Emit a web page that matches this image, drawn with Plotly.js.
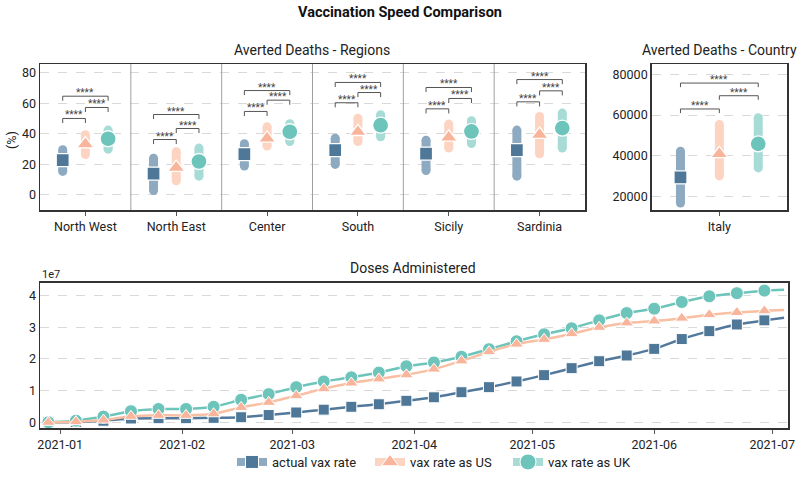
<!DOCTYPE html>
<html><head><meta charset="utf-8">
<script src="https://cdn.plot.ly/plotly-3.0.1.min.js"></script>
<style>html,body{margin:0;padding:0;background:#fff}#chart{width:800px;height:484px}</style>
</head><body><div id="chart"></div>
<script>
// ---------- data: regions ----------
const regions = ['North West','North East','Center','South','Sicily','Sardinia'];
const actualMean = [22.7, 13.8, 26.6, 29.3, 26.9, 29.3];
const actualLo   = [15.3, 2.8, 18.8, 19.9, 15.9, 12.2];
const actualHi   = [29.5, 24.0, 33.4, 37.1, 35.8, 42.4];
const usMean     = [33.2, 17.8, 36.9, 41.3, 37.6, 39.4];
const usLo       = [26.4, 9.2, 31.9, 34.9, 30.6, 26.9];
const usHi       = [39.3, 28.2, 44.5, 50.2, 46.3, 51.3];
const ukMean     = [36.7, 21.8, 41.3, 45.6, 41.5, 43.7];
const ukLo       = [29.9, 12.2, 34.9, 38.0, 33.6, 30.6];
const ukHi       = [42.4, 30.6, 46.5, 52.4, 48.5, 53.5];
const sigActualUS = [50.0, 36.2, 54.6, 60.3, 56.3, 60.9];
const sigUSUK     = [57.2, 43.4, 62.0, 67.0, 63.1, 68.1];
const sigActualUK = [64.6, 52.6, 68.3, 73.6, 70.3, 75.5];
// ---------- data: country ----------
const country = ['Italy'];
const itActual = {mean: 29500, lo: 16900, hi: 42300};
const itUS     = {mean: 41000, lo: 30200, hi: 55400};
const itUK     = {mean: 45900, lo: 34100, hi: 58700};
const itSig    = [63000, 69500, 75700]; // actual-US, US-UK, actual-UK
// ---------- data: doses (x 1e7) ----------
const weeks = ['2020-12-29','2021-01-05','2021-01-12','2021-01-19','2021-01-26','2021-02-02','2021-02-09',
  '2021-02-16','2021-02-23','2021-03-02','2021-03-09','2021-03-16','2021-03-23','2021-03-30','2021-04-06',
  '2021-04-13','2021-04-20','2021-04-27','2021-05-04','2021-05-11','2021-05-18','2021-05-25','2021-06-01',
  '2021-06-08','2021-06-15','2021-06-22','2021-06-29'];
const lastDay = '2021-07-04';
const dosesActual = [0.0,0.01,0.05,0.12,0.13,0.13,0.14,0.16,0.23,0.31,0.40,0.49,0.57,0.68,0.79,0.95,1.11,1.29,1.49,1.71,1.93,2.11,2.32,2.63,2.88,3.09,3.22];
const dosesUS     = [0.0,0.02,0.07,0.19,0.22,0.22,0.27,0.47,0.63,0.84,1.06,1.24,1.37,1.50,1.68,1.94,2.23,2.47,2.62,2.80,3.00,3.14,3.20,3.29,3.40,3.47,3.52];
const dosesUK     = [0.0,0.05,0.18,0.35,0.42,0.42,0.49,0.71,0.89,1.11,1.29,1.42,1.57,1.77,1.89,2.07,2.31,2.56,2.78,2.97,3.22,3.45,3.59,3.80,3.98,4.08,4.16];
const lastActual = 3.30, lastUS = 3.55, lastUK = 4.19;
const seriesNames = ['actual vax rate','vax rate as US','vax rate as UK'];

// ---------- styles ----------
const FONT = 'Roboto, "Open Sans", sans-serif';
const dark = ['#4f7898','#f8b59b','#6cc4ba'];
const light = ['#8eaac1','#fdd3c2','#a6dcd5'];
const lineCol = ['#52799b','#f9bfa3','#6cc4ba'];
const symbols = ['square','triangle-up','circle'];
const msize = [13,15,16];
const offsets = [-0.25, 0, 0.25];

const traces = [];
function barTrace(xs, lo, hi, k, xa, ya){
  const x=[], y=[];
  xs.forEach((xx,i)=>{x.push(xx,xx,null); y.push(lo[i],hi[i],null);});
  return {x, y, xaxis:xa, yaxis:ya, mode:'lines+markers', showlegend:false, hoverinfo:'skip',
    line:{color:light[k], width:9}, marker:{color:light[k], size:9, symbol:'circle', line:{width:0}}};
}
function markTrace(xs, ys, k, xa, ya){
  return {x:xs, y:ys, xaxis:xa, yaxis:ya, mode:'markers', showlegend:false,
    marker:{color:dark[k], size:msize[k], symbol:symbols[k], line:{color:'#fff', width:1.3}}};
}
const annotations = [];
function brackets(pairs, xa, ya, d){
  const x=[], y=[];
  pairs.forEach(p=>{
    x.push(p[0],p[0],p[1],p[1],null); y.push(p[2]-d,p[2],p[2],p[2]-d,null);
    annotations.push({x:(p[0]+p[1])/2, y:p[2], xref:xa, yref:ya.replace('axis',''), text:'****', showarrow:false,
      xanchor:'center', yanchor:'bottom', yshift:-4, font:{family:FONT, size:10, color:'#444'}});
  });
  return {x, y, xaxis:xa, yaxis:ya, mode:'lines', showlegend:false, hoverinfo:'skip', line:{color:'#555', width:1}};
}

// regions panel
const idx = regions.map((r,i)=>i);
const regLo=[actualLo,usLo,ukLo], regHi=[actualHi,usHi,ukHi], regMean=[actualMean,usMean,ukMean];
[0,1,2].forEach(k=>traces.push(barTrace(idx.map(i=>i+offsets[k]), regLo[k], regHi[k], k, 'x','y')));
[0,1,2].forEach(k=>traces.push(markTrace(idx.map(i=>i+offsets[k]), regMean[k], k, 'x','y')));
const regPairs=[];
idx.forEach(i=>{
  regPairs.push([i-0.25,i,sigActualUS[i]],[i,i+0.25,sigUSUK[i]],[i-0.25,i+0.25,sigActualUK[i]]);
});
traces.push(brackets(regPairs,'x','y',3));
annotations.forEach(a=>{a.yref='y';});

// country panel
const itAll=[itActual,itUS,itUK];
[0,1,2].forEach(k=>traces.push(barTrace([offsets[k]],[itAll[k].lo],[itAll[k].hi],k,'x2','y2')));
[0,1,2].forEach(k=>traces.push(markTrace([offsets[k]],[itAll[k].mean],k,'x2','y2')));
const nA = annotations.length;
traces.push(brackets([[-0.25,0,itSig[0]],[0,0.25,itSig[1]],[-0.25,0.25,itSig[2]]],'x2','y2',2000));
for(let j=nA;j<annotations.length;j++){annotations[j].yref='y2'; annotations[j].xref='x2';}

// doses panel
const dosesAll=[dosesActual,dosesUS,dosesUK], lastAll=[lastActual,lastUS,lastUK];
[0,2,1].forEach(k=>{
  traces.push({x:weeks.concat([lastDay]), y:dosesAll[k].concat([lastAll[k]]), xaxis:'x3', yaxis:'y3', mode:'lines',
    showlegend:false, hoverinfo:'skip', line:{color:lineCol[k], width:2.5, shape:'spline', smoothing:0.6}});
  traces.push({x:weeks, y:dosesAll[k], xaxis:'x3', yaxis:'y3', mode:'markers', showlegend:false,
    marker:{color:dark[k], size:[11,12,13][k], symbol:symbols[k], line:{color:'#fff', width:1}}});
});
// legend entries
[0,1,2].forEach(k=>traces.push({x:[null], y:[null], xaxis:'x3', yaxis:'y3', mode:'lines+markers', name:seriesNames[k],
  showlegend:true, line:{color:light[k], width:8}, marker:{color:dark[k], size:msize[k], symbol:symbols[k], line:{color:'#fff',width:1}}}));

// separators
const shapes = idx.slice(0,-1).map(i=>({type:'line', xref:'x', yref:'y domain', x0:i+0.5, x1:i+0.5, y0:0, y1:1,
  line:{color:'#a0a0a0', width:1}}));

const tickFont = {family:FONT, size:12.5, color:'#222'};
const axBase = {showline:true, mirror:true, linecolor:'#333', linewidth:1.5, zeroline:false, tickfont:tickFont};
const gridY = {showgrid:true, gridcolor:'#d9d9d9', griddash:'dash', gridwidth:1};

annotations.push(
  {text:'<b>Vaccination Speed Comparison</b>', xref:'paper', yref:'paper', x:400/800, y:(484-13)/484, xanchor:'center', yanchor:'middle', showarrow:false,
    font:{family:FONT, size:14.5, color:'#111'}},
  {text:'Averted Deaths - Regions', xref:'paper', yref:'paper', x:312/800, y:(484-50)/484, xanchor:'center', yanchor:'middle', showarrow:false,
    font:{family:FONT, size:14, color:'#222'}},
  {text:'Averted Deaths - Country', xref:'paper', yref:'paper', x:719/800, y:(484-50)/484, xanchor:'center', yanchor:'middle', showarrow:false,
    font:{family:FONT, size:14, color:'#222'}},
  {text:'Doses Administered', xref:'paper', yref:'paper', x:413/800, y:(484-268)/484, xanchor:'center', yanchor:'middle', showarrow:false,
    font:{family:FONT, size:14, color:'#222'}},
  {text:'1e7', xref:'paper', yref:'paper', x:40/800, y:(484-275)/484, xanchor:'left', yanchor:'middle', showarrow:false,
    font:{family:FONT, size:11, color:'#222'}},
  {text:'(%)', xref:'paper', yref:'paper', x:11/800, y:(484-140)/484, xanchor:'center', yanchor:'middle', textangle:-90, showarrow:false,
    font:{family:FONT, size:12.5, color:'#222'}}
);

const layout = {
  width:800, height:484, margin:{l:0,r:0,t:0,b:0}, paper_bgcolor:'#fff', plot_bgcolor:'#fff',
  font:{family:FONT, color:'#222'}, showlegend:true,
  xaxis:Object.assign({}, axBase, {domain:[40/800, 585/800], anchor:'y', range:[-0.5,5.5], tickvals:idx, ticktext:regions,
    ticks:'outside', ticklen:4, tickcolor:'#555', showgrid:false}),
  yaxis:Object.assign({}, axBase, gridY, {domain:[(484-210)/484,(484-64)/484], anchor:'x', range:[-10,85.7], tickvals:[0,20,40,60,80]}),
  xaxis2:Object.assign({}, axBase, {domain:[651.7/800, 787/800], anchor:'y2', range:[-0.435,0.435], tickvals:[0], ticktext:country,
    ticks:'outside', ticklen:4, tickcolor:'#555', showgrid:false}),
  yaxis2:Object.assign({}, axBase, gridY, {domain:[(484-210)/484,(484-64)/484], anchor:'x2', range:[13480,85050], tickvals:[20000,40000,60000,80000], ticktext:['20000','40000','60000','80000']}),
  xaxis3:Object.assign({}, axBase, {domain:[40/800, 788/800], anchor:'y3', type:'date', range:['2020-12-26 21:00','2021-07-05'],
    tickformat:'%Y-%m', dtick:'M1', tick0:'2021-01-01', ticks:'outside', ticklen:4, tickcolor:'#555', showgrid:false}),
  yaxis3:Object.assign({}, axBase, gridY, {domain:[(484-428)/484,(484-282.7)/484], anchor:'x3', range:[-0.18,4.41], tickvals:[0,1,2,3,4]}),
  legend:{orientation:'h', x:232/800, xanchor:'left', y:(484-462)/484, yanchor:'middle', font:{family:FONT, size:13, color:'#222'},
    entrywidth:93, bgcolor:'rgba(0,0,0,0)'},
  shapes, annotations
};
Plotly.newPlot('chart', traces, layout, {staticPlot:true});
</script></body></html>
